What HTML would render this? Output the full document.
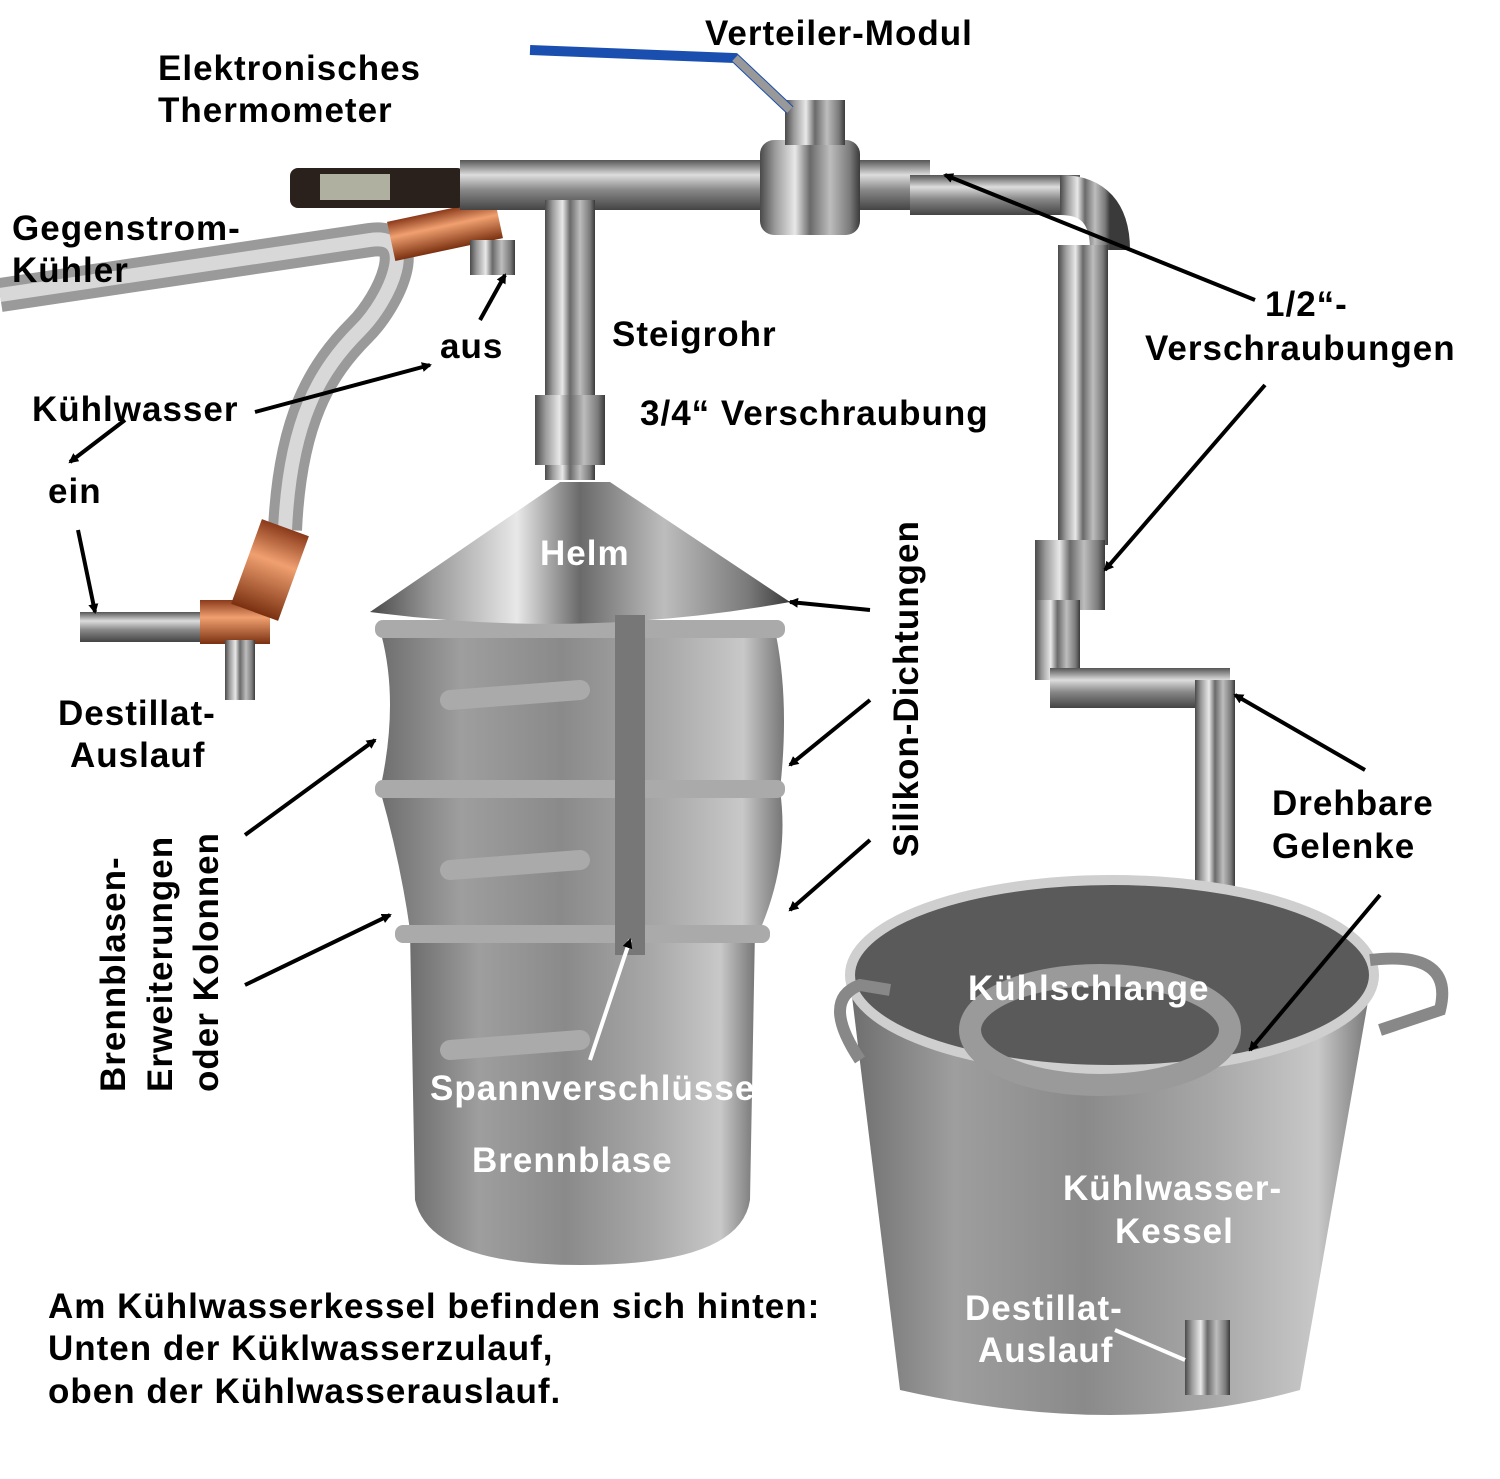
<!DOCTYPE html>
<html><head><meta charset="utf-8"><style>
html,body{margin:0;padding:0;background:#fff;}
svg{display:block}
text{font-family:"Liberation Sans",sans-serif;font-weight:bold;font-size:35px;letter-spacing:1px}
.w{fill:#fff}
</style></head><body>
<svg width="1500" height="1479" viewBox="0 0 1500 1479" xmlns="http://www.w3.org/2000/svg">
<defs>
<linearGradient id="steel" x1="0" x2="1" y1="0" y2="0">
<stop offset="0" stop-color="#4a4a4a"/><stop offset="0.15" stop-color="#9a9a9a"/><stop offset="0.35" stop-color="#e8e8e8"/><stop offset="0.5" stop-color="#6a6a6a"/><stop offset="0.7" stop-color="#bdbdbd"/><stop offset="0.9" stop-color="#7a7a7a"/><stop offset="1" stop-color="#3a3a3a"/></linearGradient>
<linearGradient id="steelv" x1="0" x2="0" y1="0" y2="1">
<stop offset="0" stop-color="#555"/><stop offset="0.3" stop-color="#ddd"/><stop offset="0.6" stop-color="#888"/><stop offset="1" stop-color="#444"/></linearGradient>
<linearGradient id="pot" x1="0" x2="1" y1="0" y2="0">
<stop offset="0" stop-color="#6e6e6e"/><stop offset="0.2" stop-color="#9e9e9e"/><stop offset="0.45" stop-color="#8a8a8a"/><stop offset="0.7" stop-color="#a8a8a8"/><stop offset="0.9" stop-color="#c8c8c8"/><stop offset="1" stop-color="#777"/></linearGradient>
<linearGradient id="cu" x1="0" x2="0" y1="0" y2="1">
<stop offset="0" stop-color="#8a3a1a"/><stop offset="0.4" stop-color="#f0a070"/><stop offset="1" stop-color="#7a3010"/></linearGradient>
<marker id="ah" markerWidth="10" markerHeight="10" refX="8" refY="5" orient="auto" markerUnits="userSpaceOnUse" viewBox="0 0 10 10"><path d="M0,0 L10,5 L0,10 z" fill="#000"/></marker>
</defs>

<path d="M0,295 L370,240 C420,232 390,300 360,330 C320,370 290,420 285,530" stroke="#9a9a9a" stroke-width="34" fill="none"/>
<path d="M0,295 L370,240 C420,232 390,300 360,330 C320,370 290,420 285,530" stroke="#d8d8d8" stroke-width="14" fill="none"/>
<rect x="390" y="210" width="110" height="40" fill="url(#cu)" transform="rotate(-12 445 230)"/>
<rect x="80" y="612" width="140" height="30" fill="url(#steelv)"/>
<rect x="200" y="600" width="70" height="44" fill="url(#cu)"/>
<rect x="245" y="525" width="50" height="90" fill="url(#cu)" transform="rotate(20 270 570)"/>
<rect x="225" y="640" width="30" height="60" fill="url(#steel)"/>
<rect x="290" y="168" width="175" height="40" rx="8" fill="#2a201c"/>
<rect x="320" y="174" width="70" height="26" fill="#b0b0a0"/>
<rect x="460" y="160" width="470" height="50" fill="url(#steelv)"/>
<rect x="910" y="175" width="170" height="40" fill="url(#steelv)"/>
<path d="M1060,195 Q1110,195 1110,250" stroke="url(#steel)" stroke-width="40" fill="none"/>
<rect x="760" y="140" width="100" height="95" rx="14" fill="url(#steel)"/>
<rect x="785" y="100" width="60" height="45" fill="url(#steel)"/>
<path d="M530,50 L735,58 L790,110" stroke="#1a4fb0" stroke-width="10" fill="none"/>
<path d="M735,58 L790,110" stroke="#999" stroke-width="8" fill="none"/>
<rect x="470" y="240" width="45" height="35" fill="url(#steel)"/>
<rect x="545" y="200" width="50" height="280" fill="url(#steel)"/>
<rect x="535" y="395" width="70" height="70" fill="url(#steel)"/>
<rect x="1058" y="245" width="50" height="300" fill="url(#steel)"/>
<rect x="1035" y="540" width="70" height="70" fill="url(#steel)"/>
<rect x="1035" y="600" width="45" height="80" fill="url(#steel)"/>
<rect x="1050" y="668" width="180" height="40" fill="url(#steelv)"/>
<rect x="1195" y="680" width="40" height="340" fill="url(#steel)"/>
<path d="M850,980 L900,1390 Q1120,1440 1300,1390 L1370,990 Z" fill="url(#pot)"/>
<ellipse cx="1112" cy="975" rx="262" ry="95" fill="#5a5a5a" stroke="#cfcfcf" stroke-width="10"/>
<ellipse cx="1100" cy="1030" rx="130" ry="55" fill="none" stroke="#9a9a9a" stroke-width="22"/>
<path d="M860,1060 Q820,1000 860,985 L890,990" stroke="#888" stroke-width="12" fill="none"/>
<path d="M1370,960 Q1455,950 1440,1010 L1380,1030" stroke="#888" stroke-width="12" fill="none"/>
<rect x="1185" y="1320" width="45" height="75" fill="url(#steel)"/>
<path d="M410,930 L415,1200 Q430,1265 580,1265 Q740,1265 750,1200 L755,930 Z" fill="url(#pot)"/>
<path d="M380,790 Q400,860 410,930 L760,930 Q790,860 780,790 Z" fill="url(#pot)"/>
<path d="M380,630 Q400,700 380,790 L780,790 Q790,700 775,630 Z" fill="url(#pot)"/>
<rect x="375" y="620" width="410" height="18" rx="8" fill="#aaa"/>
<rect x="375" y="780" width="410" height="18" rx="8" fill="#aaa"/>
<rect x="395" y="925" width="375" height="18" rx="8" fill="#aaa"/>
<path d="M370,612 L560,482 L610,482 L790,602 Q580,640 370,612 Z" fill="url(#steel)"/>
<rect x="615" y="615" width="30" height="340" fill="#777"/>
<path d="M450,700 L580,690" stroke="#aaa" stroke-width="20" stroke-linecap="round"/>
<path d="M450,870 L580,860" stroke="#aaa" stroke-width="20" stroke-linecap="round"/>
<path d="M450,1050 L580,1040" stroke="#aaa" stroke-width="20" stroke-linecap="round"/>

<g stroke="#000" stroke-width="4" marker-end="url(#ah)" fill="none">
<path d="M1255,300 L945,175"/>
<path d="M1265,385 L1105,570"/>
<path d="M255,412 L430,365"/>
<path d="M125,420 L70,462"/>
<path d="M480,320 L505,275"/>
<path d="M78,530 L95,612"/>
<path d="M870,610 L790,602"/>
<path d="M870,700 L790,765"/>
<path d="M870,840 L790,910"/>
<path d="M245,835 L375,740"/>
<path d="M245,985 L390,915"/>
<path d="M1365,770 L1235,695"/>
<path d="M1380,895 L1250,1050"/>
</g>
<path d="M590,1060 L630,940" stroke="#fff" stroke-width="4" marker-end="url(#ah)"/>
<path d="M1115,1330 L1185,1360" stroke="#fff" stroke-width="4"/>

<text x="705" y="45">Verteiler-Modul</text>
<text x="158" y="80">Elektronisches</text>
<text x="158" y="122">Thermometer</text>
<text x="12" y="240">Gegenstrom-</text>
<text x="12" y="282">Kühler</text>
<text x="612" y="346">Steigrohr</text>
<text x="440" y="358">aus</text>
<text x="1265" y="316">1/2“-</text>
<text x="1145" y="360">Verschraubungen</text>
<text x="32" y="421">Kühlwasser</text>
<text x="640" y="425">3/4“ Verschraubung</text>
<text x="48" y="503">ein</text>
<text class="w" x="540" y="565">Helm</text>
<text transform="translate(918,857) rotate(-90)">Silikon-Dichtungen</text>
<text x="58" y="725">Destillat-</text>
<text x="70" y="767">Auslauf</text>
<text x="1272" y="815">Drehbare</text>
<text x="1272" y="858">Gelenke</text>
<text transform="translate(125,1092) rotate(-90)">Brennblasen-</text>
<text transform="translate(172,1092) rotate(-90)">Erweiterungen</text>
<text transform="translate(218,1092) rotate(-90)">oder Kolonnen</text>
<text class="w" x="968" y="1000">Kühlschlange</text>
<text class="w" x="430" y="1100">Spannverschlüsse</text>
<text class="w" x="472" y="1172">Brennblase</text>
<text class="w" x="1063" y="1200">Kühlwasser-</text>
<text class="w" x="1115" y="1243">Kessel</text>
<text class="w" x="965" y="1320">Destillat-</text>
<text class="w" x="978" y="1362">Auslauf</text>
<text x="48" y="1318">Am Kühlwasserkessel befinden sich hinten:</text>
<text x="48" y="1360">Unten der Küklwasserzulauf,</text>
<text x="48" y="1403">oben der Kühlwasserauslauf.</text>
</svg>
</body></html>
